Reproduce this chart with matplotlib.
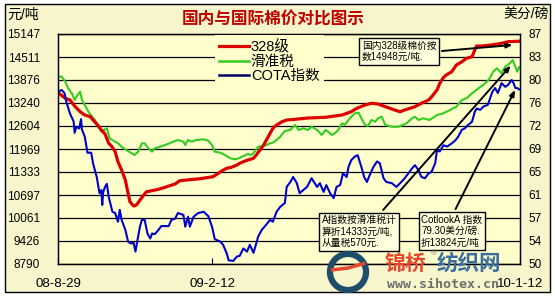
import matplotlib.pyplot as plt
from matplotlib.lines import Line2D
from matplotlib.patches import Rectangle, Circle
import numpy as np

plt.rcParams['font.family'] = ['Liberation Sans', 'Noto Sans CJK SC', 'DejaVu Sans']

# days counted from 2008-08-29
red_days = [0, 8, 13, 18, 24, 29, 35, 38, 42, 47, 51, 55, 58, 62, 65, 69, 73, 76, 78, 82,
            85, 89, 93, 96, 102, 109, 116, 127, 132, 140, 147, 154, 161, 168, 174, 178, 183, 188, 194, 197,
            201, 206, 212, 215, 219, 223, 226, 230, 233, 237, 243, 248, 257, 271, 290, 308, 318, 324, 333, 340,
            347, 355, 365, 371, 376, 387, 394, 402, 405, 411, 414, 418, 421, 427, 432, 438, 443, 449, 452, 454,
            459, 470, 481, 488, 500]
red_vals = [13525, 13370, 13323, 13157, 12999, 12908, 12861, 12770, 12659, 12494,
            12383, 12126, 12051, 11894, 11617, 11388, 11112, 10744, 10512, 10393,
            10421, 10559, 10697, 10788, 10816, 10855, 10910, 11001, 11092, 11112,
            11131, 11147, 11175, 11203, 11297, 11369, 11435, 11463, 11526, 11573,
            11617, 11664, 11711, 11803, 11941, 12079, 12217, 12402, 12541, 12632,
            12723, 12770, 12789, 12825, 12845, 12908, 12999, 13093, 13185, 13232,
            13212, 13138, 13046, 12999, 13046, 13138, 13232, 13323, 13406, 13599,
            13784, 13945, 14014, 14105, 14290, 14381, 14475, 14520, 14705, 14815,
            14815, 14843, 14890, 14934, 14948]

green_days = [0, 4, 8, 11, 15, 18, 20, 24, 26, 29, 33, 37, 40, 44, 47, 53, 56, 62, 65, 69,
              74, 80, 83, 87, 91, 94, 98, 102, 105, 111, 116, 121, 125, 130, 136, 138, 141, 145, 150, 158,
              163, 167, 170, 176, 181, 187, 192, 196, 201, 206, 210, 214, 217, 223, 226, 230, 233, 237, 241, 246,
              252, 257, 261, 266, 271, 275, 281, 286, 290, 293, 297, 300, 304, 308, 311, 315, 318, 322, 326, 329,
              333, 336, 340, 344, 347, 351, 355, 362, 369, 374, 378, 384, 387, 391, 396, 403, 411, 418, 425, 432,
              438, 443, 449, 456, 461, 467, 472, 476, 481, 485, 490, 493, 496, 498, 500]
green_vals = [13967, 13967, 13829, 13646, 13508, 13323, 13414, 13552, 13323, 13185,
              12999, 12861, 12770, 12585, 12447, 12541, 12264, 12170, 12126, 12032,
              11941, 11850, 11803, 11894, 12126, 12126, 11988, 11894, 11988, 12032,
              12079, 12126, 12170, 12217, 12170, 12079, 12217, 12170, 12217, 12236,
              12198, 12079, 11894, 11866, 11803, 11711, 11684, 11711, 11775, 11830,
              11803, 11921, 12032, 12051, 12079, 12126, 12143, 12217, 12308, 12466,
              12494, 12632, 12494, 12541, 12494, 12585, 12494, 12355, 12494, 12447,
              12355, 12402, 12494, 12679, 12632, 12770, 12861, 12955, 12972, 12817,
              12632, 12604, 12770, 12723, 12817, 12861, 12632, 12585, 12585, 12632,
              12679, 12817, 12861, 12770, 12817, 12770, 12908, 12955, 13046, 13138,
              13323, 13370, 13508, 13646, 13737, 13876, 14105, 14199, 14061, 14243,
              14337, 14428, 14243, 14105, 14227]

cota_days = [0, 4, 7, 9, 13, 17, 18, 20, 23, 25, 26, 29, 32, 36, 38, 42, 45, 47, 48, 49,
             51, 53, 55, 59, 62, 65, 67, 69, 73, 76, 79, 82, 84, 86, 89, 91, 94, 97, 100, 102,
             105, 109, 112, 120, 123, 127, 130, 136, 138, 141, 143, 147, 152, 158, 163, 167, 170, 176, 179, 183,
             185, 190, 194, 197, 201, 205, 208, 212, 215, 217, 221, 224, 230, 233, 237, 241, 246, 248, 252, 255,
             259, 262, 266, 270, 275, 281, 284, 288, 291, 295, 299, 302, 306, 309, 313, 315, 318, 322, 325, 329,
             332, 335, 338, 342, 346, 349, 353, 356, 362, 367, 371, 376, 380, 384, 387, 391, 394, 398, 402, 405,
             409, 411, 414, 418, 422, 427, 431, 434, 438, 441, 445, 449, 452, 454, 458, 461, 466, 468, 471, 474,
             477, 481, 485, 488, 492, 494, 496, 498, 500]
cota_vals = [77.7, 78.0, 77.5, 76.1, 74.2, 72.9, 71.1, 72.1, 71.8, 73.3,
             71.6, 70.5, 67.9, 67.9, 66.2, 64.0, 61.4, 61.9, 59.5, 61.6,
             62.4, 62.9, 60.8, 58.4, 58.2, 56.8, 58.7, 57.1, 55.5, 53.6,
             53.3, 53.4, 52.0, 53.7, 56.1, 57.1, 57.1, 54.9, 54.1, 54.9,
             54.8, 55.5, 56.1, 56.1, 57.1, 57.3, 58.2, 57.9, 56.0, 57.6,
             56.0, 57.6, 58.2, 58.4, 57.7, 56.0, 54.0, 53.6, 53.1, 51.7,
             50.6, 50.5, 51.2, 51.3, 52.5, 52.0, 53.1, 51.8, 53.3, 54.4,
             55.5, 56.0, 57.1, 56.8, 58.4, 59.2, 59.8, 62.4, 63.2, 64.0,
             63.0, 61.4, 61.9, 62.4, 63.8, 62.4, 63.0, 61.6, 62.7, 61.4,
             60.6, 62.4, 62.7, 64.6, 64.0, 65.6, 66.7, 67.3, 67.5, 65.6,
             64.0, 63.2, 64.3, 65.6, 66.5, 66.2, 63.8, 63.2, 63.0, 62.4,
             63.0, 63.8, 64.6, 65.4, 65.9, 65.1, 64.0, 63.8, 64.6, 64.8,
             66.2, 68.3, 68.1, 69.1, 68.9, 69.4, 69.9, 70.5, 71.6, 71.8,
             72.4, 72.9, 74.5, 75.0, 74.8, 75.3, 75.6, 76.4, 77.7, 78.3,
             77.5, 79.1, 78.5, 78.8, 79.6, 79.1, 78.3, 78.3, 78.1]

left_labels = ['8790', '9426', '10061', '10697', '11333', '11969', '12604', '13240', '13876', '14511', '15147']
right_labels = ['50', '54', '57', '61', '65', '69', '72', '76', '80', '83', '87']
x_ticks = [0, 167, 501]
x_labels = ['08-8-29', '09-2-12', '10-1-12']

bg = '#FFFFCC'
fig = plt.figure(figsize=(5.55, 2.96), dpi=100, facecolor='white')
fig.add_artist(Rectangle((5/555, 4/296), 545/555, 288/296, transform=fig.transFigure,
                         facecolor='#F7F5CB', edgecolor='black', lw=1, zorder=-10))

ax = fig.add_axes([58/555, 32/296, 462/555, 230/296])
ax.set_facecolor(bg)
ax.set_xlim(0, 501)
ax.set_ylim(8790, 15147)
ax.set_yticks(np.linspace(8790, 15147, 11))
ax.set_yticklabels(left_labels, fontsize=8.5)
ax.tick_params(axis='y', length=0, pad=13)
ax.set_xticks(x_ticks)
ax.set_xticklabels(x_labels, fontsize=9.5)
ax.tick_params(axis='x', direction='in', length=4, pad=10)
ax.grid(axis='y', color='black', lw=0.9)
for s in ax.spines.values():
    s.set_color('black')
    s.set_linewidth(1)

ax.plot(green_days, green_vals, color='#33CC22', lw=1.5)
ax.plot(red_days, red_vals, color='#DD0000', lw=2.3)

ax2 = ax.twinx()
ax2.set_ylim(50, 87)
ax2.set_yticks(np.linspace(50, 87, 11))
ax2.set_yticklabels(right_labels, fontsize=8.5)
ax2.tick_params(axis='y', length=0, pad=6)
ax2.plot(cota_days, cota_vals, color='#0000CC', lw=1.5)

handles = [Line2D([], [], color='#DD0000', lw=2.3),
           Line2D([], [], color='#33CC22', lw=1.8),
           Line2D([], [], color='#000066', lw=1.8)]
leg = ax2.legend(handles, ['328级', '滑准税', 'COTA指数'], loc='upper left',
                 bbox_to_anchor=(0.34, 0.995), fontsize=10.5, frameon=True,
                 facecolor=bg, edgecolor='none', framealpha=1, borderaxespad=0,
                 borderpad=0.3, labelspacing=0.05, handletextpad=0.15, handlelength=2.0)
leg.get_frame().set_boxstyle('square', pad=0.0)

box = dict(boxstyle='square,pad=0.25', fc='#FFFFDD', ec='black', lw=1)
arrow = dict(arrowstyle='-|>,head_length=0.5,head_width=0.2', color='black', lw=1.4)

ax.annotate('国内328级棉价按\n数14948元/吨.', xy=(496, 14850), xytext=(0.738, 0.924),
            textcoords='axes fraction', ha='center', va='center', multialignment='left',
            fontsize=7, bbox=box, arrowprops=dict(arrow, relpos=(1.0, 0.5)), zorder=20)
ax2.annotate('A指数按滑准税计\n算折14333元/吨,\n从量税570元.', xy=(493, 14330),
             xycoords=ax.transData, xytext=(0.652, 0.141), textcoords='axes fraction',
             ha='center', va='center', multialignment='left', fontsize=7, bbox=box,
             arrowprops=dict(arrow, relpos=(0.76, 1.0)), zorder=20)
ax2.annotate('CotlookA 指数\n79.30美分/磅.\n折13824元/吨', xy=(497, 78.4),
             xytext=(0.852, 0.143), textcoords='axes fraction',
             ha='center', va='center', multialignment='left', fontsize=7, bbox=box,
             arrowprops=dict(arrow, relpos=(0.52, 1.0)), zorder=20)

fig.text(273/555, 1 - 20/296, '国内与国际棉价对比图示', ha='center', va='center',
         fontsize=12, fontweight='bold', color='#C00000', family=['Noto Sans CJK SC'])
fig.text(7/555, 1 - 15/296, '元/吨', ha='left', va='center', fontsize=10)
fig.text(549/555, 1 - 15/296, '美分/磅', ha='right', va='center', fontsize=10)

# watermark logo
logo = fig.add_axes([326/555, 2/296, 44/555, 44/296])
logo.set_xlim(-1, 1)
logo.set_ylim(-1, 1)
logo.axis('off')
logo.patch.set_alpha(0)
logo.add_patch(Circle((0, 0), 0.82, fill=False, edgecolor='#1E4D6B', lw=4.5))
logo.plot([-0.7, 0.0, 0.7], [0.1, 0.18, 0.38], color='#E8452C', lw=2.5)

fig.text(385/555, 1 - 263/296, '锦桥', ha='left', va='center', fontsize=15, fontweight='bold',
         color='#E8452C', family=['Noto Sans CJK SC'], zorder=30)
fig.text(431/555, 1 - 254/296, '®', ha='left', va='center', fontsize=6, color='#777777', zorder=30)
fig.text(437/555, 1 - 263/296, '纺织网', ha='left', va='center', fontsize=15.5, fontweight='bold',
         color='#3A6E9E', family=['Noto Sans CJK SC'], zorder=30)
fig.text(443/555, 1 - 284/296, 'www.sihotex.cn', ha='center', va='center', fontsize=9.5,
         fontweight='bold', color='#6E6E6E', family=['DejaVu Sans Mono'], zorder=30)

fig.savefig('out.png', dpi=100, facecolor=fig.get_facecolor())
